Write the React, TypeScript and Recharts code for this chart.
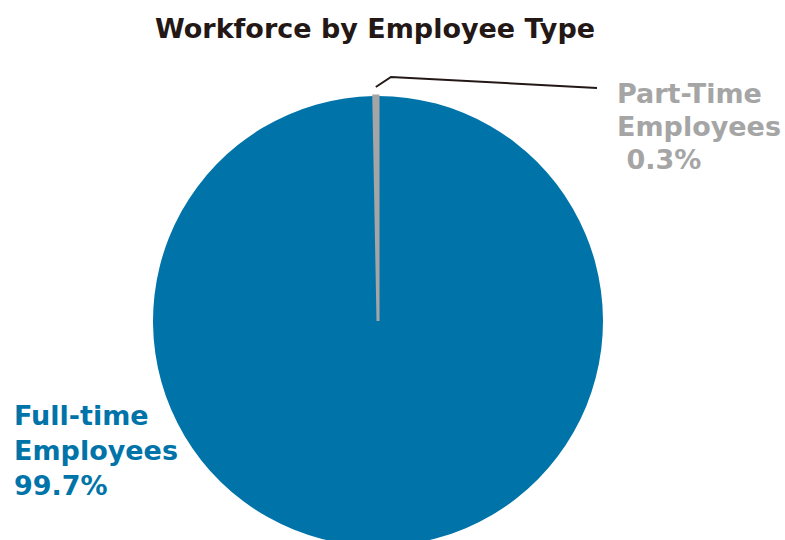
import React from "react";
import { PieChart, Pie, Cell } from "recharts";

// ─── Data ─────────────────────────────────────────────────────────────────────
const categories = ["Full-time Employees", "Part-Time Employees"];
const shares = [99.7, 0.3];
const labelLines = [
  ["Full-time", "Employees", "99.7%"],
  ["Part-Time", "Employees", " 0.3%"],
];

const COLORS = ["#0074a9", "#a5a5a5"];
const FONT = "'DejaVu Sans', 'Liberation Sans', Arial, sans-serif";

const data = categories.map((name, i) => ({ name, value: shares[i] }));

// ─── Custom label (text + leader line) ────────────────────────────────────────
const renderLabel = (props: any) => {
  const { cx, cy, outerRadius, midAngle, index } = props;
  const lines = labelLines[index];
  if (index === 0) {
    return (
      <text x={cx - 364} y={cy + 104} fill={COLORS[0]} fontFamily={FONT}
        fontWeight={700} fontSize={27}>
        {lines.map((l, i) => (
          <tspan key={i} x={cx - 364} dy={i === 0 ? 0 : 35}>{l}</tspan>
        ))}
      </text>
    );
  }
  const rad = (-midAngle * Math.PI) / 180;
  const r = outerRadius + 9;
  const sx = cx + r * Math.cos(rad);
  const sy = cy + r * Math.sin(rad);
  return (
    <g>
      <polyline
        points={`${sx},${sy} ${cx + 13},${cy - 244} ${cx + 219},${cy - 233}`}
        fill="none" stroke="#231815" strokeWidth={2}
      />
      <text x={cx + 239} y={cy - 218} fill={COLORS[1]} fontFamily={FONT}
        fontWeight={700} fontSize={27} style={{ whiteSpace: "pre" }}>
        {lines.map((l, i) => (
          <tspan key={i} x={cx + 239} dy={i === 0 ? 0 : 33}>{l}</tspan>
        ))}
      </text>
    </g>
  );
};

// ─── Component ────────────────────────────────────────────────────────────────
export default function App() {
  return (
    <div style={{ position: "relative", width: 785, height: 540, background: "#fff", overflow: "hidden" }}>
      <style>{`body{margin:0}`}</style>
      <div style={{
        position: "absolute", top: 15, left: 0, width: 750, textAlign: "center",
        fontFamily: FONT, fontWeight: 700, fontSize: 27, lineHeight: "27px", color: "#231815",
      }}>
        Workforce by Employee Type
      </div>
      <PieChart width={785} height={540}>
        <Pie
          data={data}
          dataKey="value"
          nameKey="name"
          cx={373}
          cy={316}
          outerRadius={225}
          startAngle={90}
          endAngle={-270}
          label={renderLabel}
          labelLine={false}
          isAnimationActive={false}
        >
          {data.map((d, i) => (
            <Cell key={d.name} fill={COLORS[i]}
              stroke={i === 1 ? COLORS[1] : "none"} strokeWidth={i === 1 ? 3 : 0} />
          ))}
        </Pie>
      </PieChart>
    </div>
  );
}
